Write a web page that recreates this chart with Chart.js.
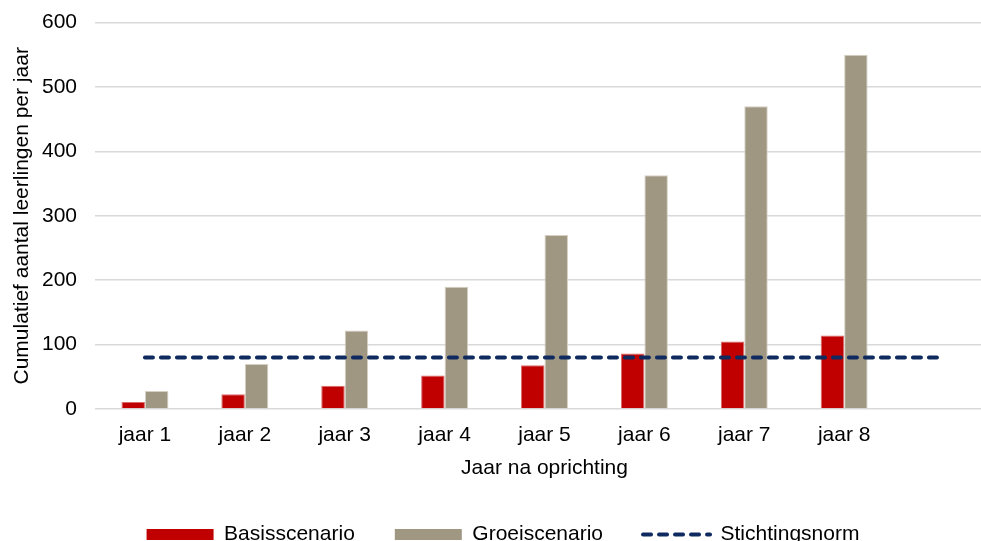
<!DOCTYPE html>
<html>
<head>
<meta charset="utf-8">
<script src="https://cdn.jsdelivr.net/npm/chart.js@4/dist/chart.umd.min.js"></script>
<style>
  html, body { margin: 0; padding: 0; background: #fff; overflow: hidden; }
  #wrap { width: 1006px; height: 563px; margin-top: -8px; }
</style>
</head>
<body>
<div id="wrap"><canvas id="c" width="1006" height="563"></canvas></div>
<script>
const categories = ['jaar 1', 'jaar 2', 'jaar 3', 'jaar 4', 'jaar 5', 'jaar 6', 'jaar 7', 'jaar 8', ''];
const basisscenario = [11, 23, 36, 52, 68, 86, 105, 114, null];
const groeiscenario = [28, 70, 122, 190, 270, 363, 470, 550, null];
const stichtingsnorm = [80, 80, 80, 80, 80, 80, 80, 80, 80];
const yTicks = [0, 100, 200, 300, 400, 500, 600];

const FONT = "'Liberation Sans', Arial, sans-serif";

new Chart(document.getElementById('c'), {
  type: 'bar',
  data: {
    labels: categories,
    datasets: [
      {
        label: 'Basisscenario',
        data: basisscenario,
        backgroundColor: '#C00000',
        borderColor: '#D86A6A',
        borderWidth: 1,
        categoryPercentage: 0.47,
        barPercentage: 1.0,
        order: 1
      },
      {
        label: 'Groeiscenario',
        data: groeiscenario,
        backgroundColor: '#A09783',
        borderColor: '#D6D0C3',
        borderWidth: 1,
        categoryPercentage: 0.47,
        barPercentage: 1.0,
        order: 1
      },
      {
        type: 'line',
        label: 'Stichtingsnorm',
        data: stichtingsnorm,
        borderColor: '#0E2A5E',
        backgroundColor: '#0E2A5E',
        borderWidth: 4,
        borderDash: [8, 8],
        borderCapStyle: 'round',
        pointRadius: 0,
        fill: false,
        order: 0
      }
    ]
  },
  options: {
    responsive: false,
    animation: false,
    layout: { padding: { left: 12, right: 12, top: 0, bottom: 0 } },
    plugins: {
      tooltip: { enabled: false },
      legend: {
        position: 'bottom',
        align: 'center',
        labels: {
          color: '#000',
          font: { family: FONT, size: 21 },
          usePointStyle: true,
          pointStyleWidth: 67,
          boxHeight: 11,
          padding: 40,
          sort: (a, b) => a.datasetIndex - b.datasetIndex,
          generateLabels: (chart) => {
            const items = Chart.defaults.plugins.legend.labels.generateLabels(chart);
            items.forEach(it => {
              if (it.datasetIndex === 2) {
                it.pointStyle = 'line';
                it.lineDash = [8, 8];
                it.lineCap = 'round';
                it.lineWidth = 4;
                it.strokeStyle = '#0E2A5E';
              } else {
                it.pointStyle = 'rect';
                it.lineWidth = 0;
              }
            });
            return items;
          }
        }
      }
    },
    scales: {
      x: {
        grid: { display: false },
        border: { display: false },
        ticks: { color: '#000', font: { family: FONT, size: 21, lineHeight: 1.0 }, padding: 8, maxRotation: 0 },
        title: { display: true, text: 'Jaar na oprichting', color: '#000', font: { family: FONT, size: 21, lineHeight: 1.0 }, padding: { top: 4, bottom: 5 } }
      },
      y: {
        min: 0,
        max: 600,
        afterBuildTicks: (axis) => { axis.ticks = yTicks.map(v => ({ value: v })); },
        afterFit: (axis) => { axis.width = 83; },
        grid: { color: '#D9D9D9', lineWidth: 1.5, drawTicks: false },
        border: { display: false },
        ticks: { color: '#000', font: { family: FONT, size: 21 }, padding: 18 },
        title: { display: true, text: 'Cumulatief aantal leerlingen per jaar', color: '#000', font: { family: FONT, size: 21, lineHeight: 1.0 }, padding: { top: 0, bottom: 0 } }
      }
    }
  }
});
</script>
</body>
</html>
